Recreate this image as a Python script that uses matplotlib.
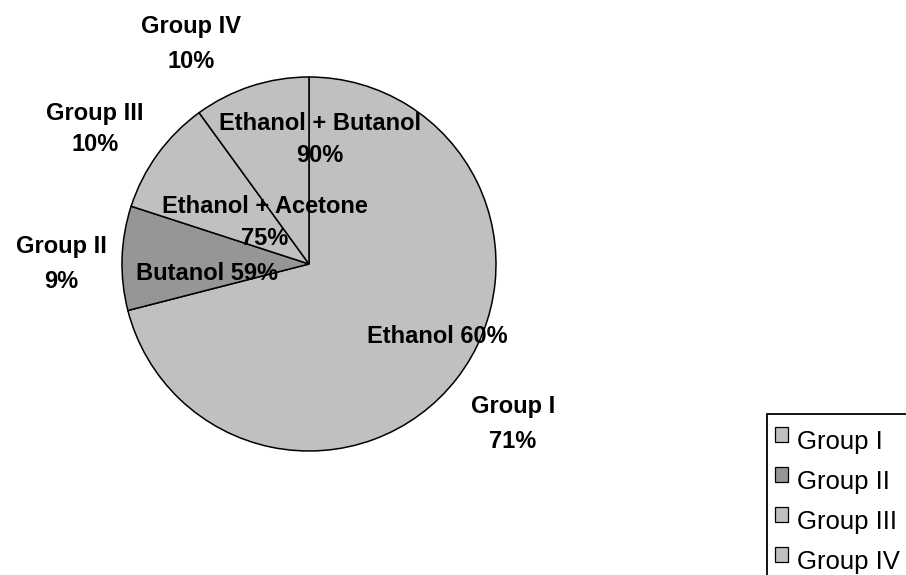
import matplotlib
matplotlib.use("Agg")
import matplotlib.pyplot as plt
from matplotlib.patches import Patch, Rectangle
from matplotlib.legend_handler import HandlerPatch

# Share of each group and the solvent reported inside its slice
groups = ["Group I", "Group II", "Group III", "Group IV"]
shares = [71, 9, 10, 10]
solvents = ["Ethanol", "Butanol", "Ethanol + Acetone", "Ethanol + Butanol"]
solvent_pct = [60, 59, 75, 90]

colors = ["#c0c0c0", "#969696", "#c0c0c0", "#c0c0c0"]

W, H = 906, 575
fig = plt.figure(figsize=(W / 100, H / 100), dpi=100)
ax = fig.add_axes([0, 0, 1, 1])
ax.set_xlim(0, W)
ax.set_ylim(0, H)
ax.set_aspect("equal")
ax.axis("off")

plt.rcParams["font.family"] = ["Liberation Sans", "DejaVu Sans"]
FS = 17
LEG_FS = 18.5

cx, cy, r = 309, H - 264, 187
ax.pie(shares, colors=colors, startangle=90, counterclock=False,
       center=(cx, cy), radius=r,
       wedgeprops=dict(edgecolor="black", linewidth=1.1))
ax.set_xlim(0, W)
ax.set_ylim(0, H)

# outer labels: (x centre, baseline of name, baseline of percentage)
outer_pos = [(513, 413, 448), (61, 253, 288), (95, 120, 151), (191, 33, 68)]
for g, s, (x, y1, y2) in zip(groups, shares, outer_pos):
    ax.text(x, H - y1, g, ha="center", va="baseline", fontsize=FS,
            fontweight="bold")
    ax.text(x, H - y2, f"{s}%", ha="center", va="baseline", fontsize=FS,
            fontweight="bold")

# inner labels: (x centre, baseline line 1, baseline line 2 or None)
inner_pos = [(437, 343, None), (207, 280, None), (265, 213, 245),
             (320, 130, 162)]
for name, p, (x, y1, y2) in zip(solvents, solvent_pct, inner_pos):
    if y2 is None:
        ax.text(x, H - y1, f"{name} {p}%", ha="center", va="baseline",
                fontsize=FS, fontweight="bold")
    else:
        ax.text(x, H - y1, name, ha="center", va="baseline",
                fontsize=FS, fontweight="bold")
        ax.text(x, H - y2, f"{p}%", ha="center", va="baseline",
                fontsize=FS, fontweight="bold")


def raised_square(legend, orig_handle, xdescent, ydescent, width, height,
                  fontsize):
    # small key square sitting a little above the text centre
    return Rectangle((-xdescent, -ydescent + 0.22 * fontsize), width, height)


# legend frame running off the lower right corner of the canvas
ax.add_patch(Rectangle((767, -30), 300, H - 414 + 30, facecolor="white",
                       edgecolor="black", linewidth=1.3, zorder=4,
                       clip_on=False))

handles = [Patch(facecolor=c, edgecolor="black", linewidth=0.9)
           for c in colors]
leg = ax.legend(handles, groups, loc="upper left",
                bbox_to_anchor=(767 / W, 1 - 422 / H),
                bbox_transform=fig.transFigure, borderaxespad=0,
                fontsize=LEG_FS, handlelength=0.5, handleheight=0.5,
                handletextpad=0.35, labelspacing=0.62, borderpad=0.33,
                fancybox=False, frameon=False,
                handler_map={Patch: HandlerPatch(patch_func=raised_square)})
leg.set_zorder(5)

fig.savefig("out.png", dpi=100)
